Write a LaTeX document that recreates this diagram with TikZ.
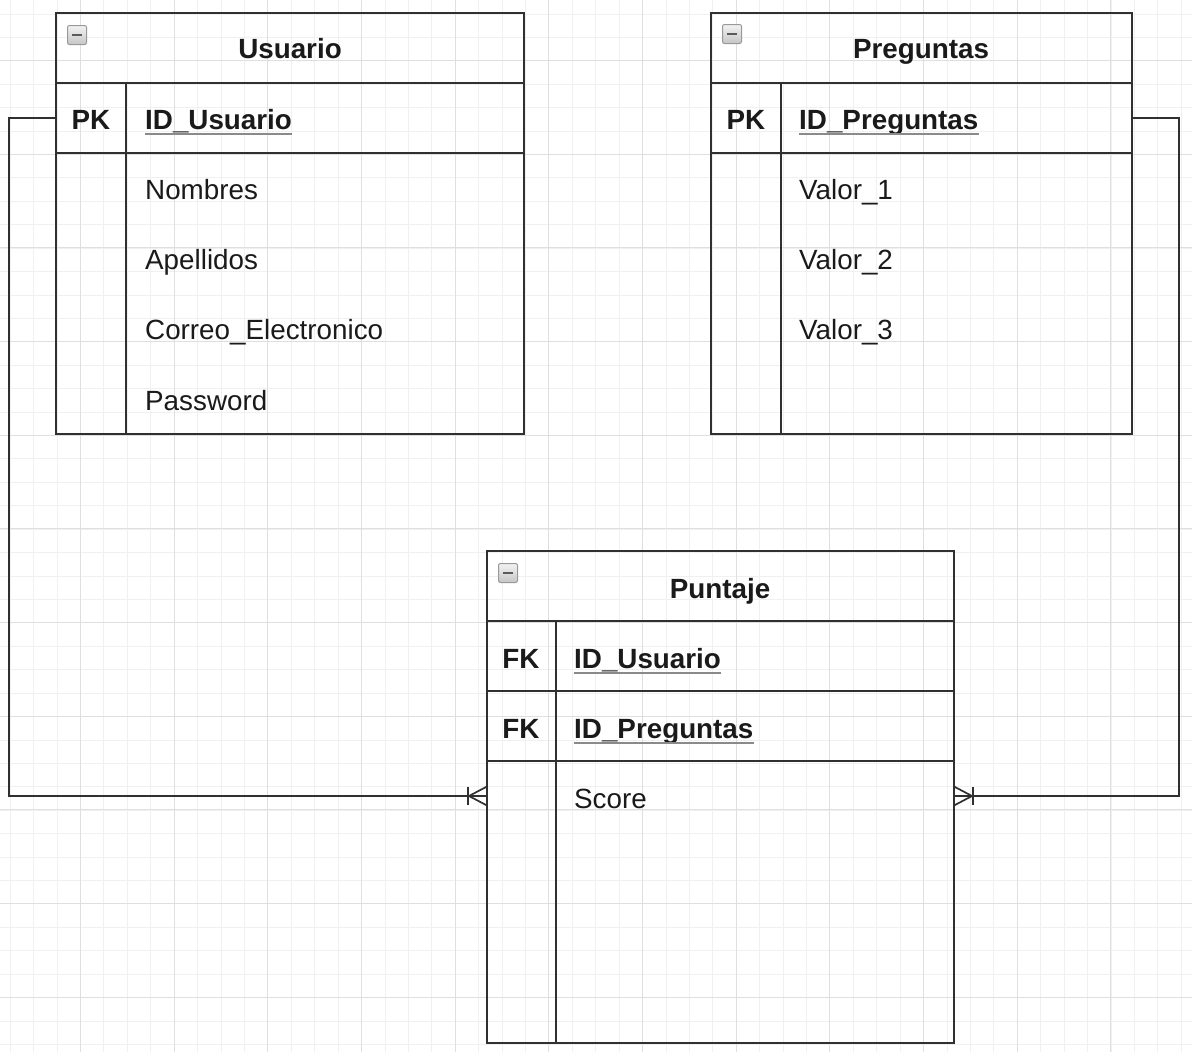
\documentclass[tikz,border=0pt]{standalone}
\usepackage{fontspec}
\setmainfont{Liberation Sans}
\usetikzlibrary{calc}
\definecolor{edgec}{HTML}{303030}
\definecolor{gridminor}{HTML}{F0F0F0}
\definecolor{gridmajor}{HTML}{DFDFDF}
\definecolor{txtc}{HTML}{1A1A1A}
\definecolor{ulc}{HTML}{8A8A8A}
\begin{document}
\begin{tikzpicture}[x=1pt,y=-1pt,
  tablebox/.style={draw=edgec,line width=2pt,inner sep=0pt,outer sep=0pt,anchor=north west},
  rowbox/.style={inner sep=0pt,outer sep=0pt,anchor=north west},
  sep/.style={draw=edgec,line width=2pt},
  conn/.style={draw=edgec,line width=1.7pt},
  txt/.style={font=\fontsize{27.8}{33}\selectfont,inner sep=0pt,text=txtc},
  btxt/.style={font=\fontsize{27.8}{33}\selectfont\bfseries,inner sep=0pt,text=txtc},
  uline/.style={draw=ulc,line width=2pt},
  icon/.style={draw=gray!80,line width=1pt,rounded corners=2pt,top color=gray!10,bottom color=gray!45,minimum size=19pt,inner sep=0pt,anchor=north west}
]
\useasboundingbox (0,0) rectangle (1192,1052);
\fill[white] (0,0) rectangle (1192,1052);
% grid
\foreach \i in {0,...,50} {
  \pgfmathsetmacro{\gx}{round(9.8+23.42*\i)+0.5}
  \draw[gridminor,line width=1.3pt] (\gx,0) -- (\gx,1052);
}
\foreach \i in {0,...,44} {
  \pgfmathsetmacro{\gy}{round(13.5+23.42*\i)+0.5}
  \draw[gridminor,line width=1.3pt] (0,\gy) -- (1192,\gy);
}
\foreach \i in {0,...,12} {
  \pgfmathsetmacro{\gx}{round(80+93.68*\i)+0.5}
  \draw[gridmajor,line width=1.3pt] (\gx,0) -- (\gx,1052);
}
\foreach \i in {0,...,11} {
  \pgfmathsetmacro{\gy}{round(60+93.68*\i)+0.5}
  \draw[gridmajor,line width=1.3pt] (0,\gy) -- (1192,\gy);
}

% ---------- Usuario ----------
\node[tablebox,minimum width=468pt,minimum height=421pt] (usuario) at (56,13) {};
\node[rowbox,minimum width=468pt,minimum height=70pt] (upk) at (56,83) {};
\draw[sep] (upk.north west) -- (upk.north east);
\draw[sep] (upk.south west) -- (upk.south east);
\draw[sep] (126,83) -- (126,434);
\node[icon] (uicon) at (67,25) {};
\draw[edgec!80,line width=2.5pt] ($(uicon.center)+(-5,0)$) -- ($(uicon.center)+(5,0)$);
\node[btxt,anchor=base] (utitle) at (290,58) {Usuario};
\node[btxt,anchor=base] (upkl) at (91,129) {PK};
\node[btxt,anchor=base west] (uid) at (145,129) {ID\_Usuario};
\draw[uline] ([yshift=-4.5pt]uid.base west) -- ([yshift=-4.5pt]uid.base east);
\node[txt,anchor=base west] (unom) at (145,199) {Nombres};
\node[txt,anchor=base west] (uape) at (145,269) {Apellidos};
\node[txt,anchor=base west] (ucor) at (145,339) {Correo\_Electronico};
\node[txt,anchor=base west] (upas) at (145,410) {Password};

% ---------- Preguntas ----------
\node[tablebox,minimum width=421pt,minimum height=421pt] (preguntas) at (711,13) {};
\node[rowbox,minimum width=421pt,minimum height=70pt] (qpk) at (711,83) {};
\draw[sep] (qpk.north west) -- (qpk.north east);
\draw[sep] (qpk.south west) -- (qpk.south east);
\draw[sep] (781,83) -- (781,434);
\node[icon] (qicon) at (722,24) {};
\draw[edgec!80,line width=2.5pt] ($(qicon.center)+(-5,0)$) -- ($(qicon.center)+(5,0)$);
\node[btxt,anchor=base] (qtitle) at (921,58) {Preguntas};
\node[btxt,anchor=base] (qpkl) at (746,129) {PK};
\node[btxt,anchor=base west] (qid) at (799,129) {ID\_Preguntas};
\draw[uline] ([yshift=-4.5pt]qid.base west) -- ([yshift=-4.5pt]qid.base east);
\node[txt,anchor=base west] (qv1) at (799,199) {Valor\_1};
\node[txt,anchor=base west] (qv2) at (799,269) {Valor\_2};
\node[txt,anchor=base west] (qv3) at (799,339) {Valor\_3};

% ---------- Puntaje ----------
\node[tablebox,minimum width=467pt,minimum height=492pt] (puntaje) at (487,551) {};
\node[rowbox,minimum width=467pt,minimum height=70pt] (pfk1) at (487,621) {};
\node[rowbox,minimum width=467pt,minimum height=70pt] (pfk2) at (487,691) {};
\node[rowbox,minimum width=467pt,minimum height=70pt] (psc) at (487,761) {};
\draw[sep] (pfk1.north west) -- (pfk1.north east);
\draw[sep] (pfk1.south west) -- (pfk1.south east);
\draw[sep] (pfk2.south west) -- (pfk2.south east);
\draw[sep] (556,621) -- (556,1043);
\node[icon] (picon) at (498,563) {};
\draw[edgec!80,line width=2.5pt] ($(picon.center)+(-5,0)$) -- ($(picon.center)+(5,0)$);
\node[btxt,anchor=base] (ptitle) at (720,598) {Puntaje};
\node[btxt,anchor=base] (pfk1l) at (521,668) {FK};
\node[btxt,anchor=base west] (pid1) at (574,668) {ID\_Usuario};
\draw[uline] ([yshift=-4.5pt]pid1.base west) -- ([yshift=-4.5pt]pid1.base east);
\node[btxt,anchor=base] (pfk2l) at (521,738) {FK};
\node[btxt,anchor=base west] (pid2) at (574,738) {ID\_Preguntas};
\draw[uline] ([yshift=-4.5pt]pid2.base west) -- ([yshift=-4.5pt]pid2.base east);
\node[txt,anchor=base west] (pscore) at (574,808) {Score};

% ---------- connectors ----------
\draw[conn] (upk.west) -- ++(-47,0) |- (psc.west);
\draw[conn] ($(psc.west)+(0,-9.5)$) -- ($(psc.west)+(-18,0)$) -- ($(psc.west)+(0,9.5)$);
\draw[conn] ($(psc.west)+(-19,-9)$) -- ($(psc.west)+(-19,9)$);

\draw[conn] (qpk.east) -- ++(47,0) |- (psc.east);
\draw[conn] ($(psc.east)+(0,-9.5)$) -- ($(psc.east)+(18,0)$) -- ($(psc.east)+(0,9.5)$);
\draw[conn] ($(psc.east)+(19,-9)$) -- ($(psc.east)+(19,9)$);
\end{tikzpicture}
\end{document}
